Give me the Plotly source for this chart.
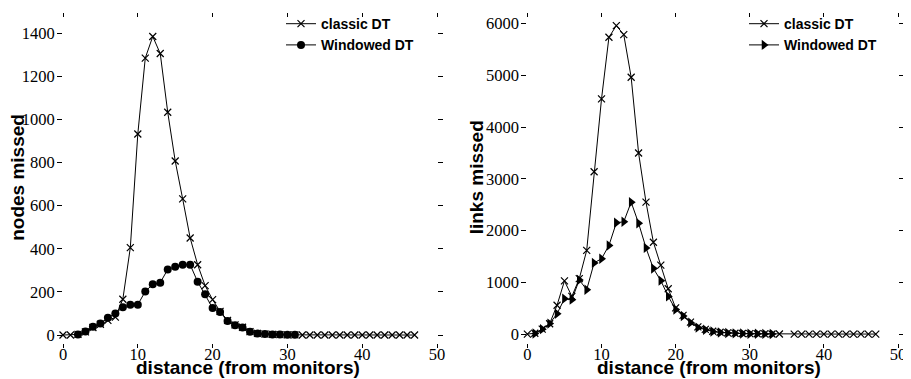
import plotly.graph_objects as go

# ---------------- data ----------------
# left panel: nodes missed
nodes_classic_x = list(range(0, 48))
nodes_classic_y = [0, 0, 3, 15, 35, 50, 68, 83, 166, 405, 932, 1284, 1384, 1305, 1033, 807,
                   631, 450, 326, 229, 164, 110, 68, 47, 36, 16, 8, 5, 3, 2, 1, 1,
                   0, 0, 0, 0, 0, 0, 0, 0, 0, 0, 0, 0, 0, 0, 0, 0]
nodes_windowed_x = list(range(2, 32))
nodes_windowed_y = [2, 17, 39, 53, 80, 100, 129, 141, 141, 202, 235, 243, 304, 317, 326,
                    326, 247, 189, 125, 107, 65, 45, 35, 15, 7, 5, 3, 2, 1, 1]

# right panel: links missed
links_classic_x = list(range(0, 35)) + list(range(36, 48))
links_classic_y = [0, 15, 94, 200, 557, 1027, 728, 1070, 1616, 3137, 4544, 5734, 5960, 5785,
                   4962, 3498, 2548, 1774, 1331, 875, 506, 361, 230, 140, 90, 55, 35, 22,
                   15, 10, 7, 5, 3, 2, 1,
                   0, 0, 0, 0, 0, 0, 0, 0, 0, 0, 0, 0]
links_windowed_x = list(range(1, 34))
links_windowed_y = [11, 95, 202, 392, 684, 665, 1046, 856, 1375, 1456, 1711, 2150, 2170, 2548,
                    2141, 1665, 1266, 1032, 728, 475, 348, 221, 125, 82, 49, 30, 20, 14, 10,
                    7, 5, 3, 2]

x_ticks = [0, 10, 20, 30, 40, 50]
nodes_ticks = [0, 200, 400, 600, 800, 1000, 1200, 1400]
links_ticks = [0, 1000, 2000, 3000, 4000, 5000, 6000]

series_names = ["classic DT", "Windowed DT"]
x_title = "distance (from monitors)"
left_title = "nodes missed"
right_title = "links missed"

# ---------------- figure ----------------
# the page body has an 8px margin, so page pixel p maps to figure pixel p - 8
OFF = 8
W, H = 911 - OFF, 379 - OFF
def px_x(p):
    return (p - OFF) / W
def px_y(p):
    return 1 - (p - OFF) / H

tick_font = dict(family="Liberation Serif", size=16.5, color="black")
title_font = dict(family="Liberation Sans", size=19, color="black", weight="bold")
legend_font = dict(family="Liberation Sans", size=14, color="black", weight="bold")

fig = go.Figure()
line = dict(color="black", width=1)

fig.add_trace(go.Scatter(x=nodes_classic_x, y=nodes_classic_y, mode="lines+markers",
                         name=series_names[0], line=line, cliponaxis=False,
                         marker=dict(symbol="x-thin-open", size=7, color="black",
                                     line=dict(color="black", width=1.2)),
                         xaxis="x", yaxis="y", legend="legend"))
fig.add_trace(go.Scatter(x=nodes_windowed_x, y=nodes_windowed_y, mode="lines+markers",
                         name=series_names[1], line=line, cliponaxis=False,
                         marker=dict(symbol="circle", size=8, color="black"),
                         xaxis="x", yaxis="y", legend="legend"))
fig.add_trace(go.Scatter(x=links_classic_x, y=links_classic_y, mode="lines+markers",
                         name=series_names[0], line=line, cliponaxis=False,
                         marker=dict(symbol="x-thin-open", size=7, color="black",
                                     line=dict(color="black", width=1.2)),
                         xaxis="x2", yaxis="y2", legend="legend2"))
fig.add_trace(go.Scatter(x=links_windowed_x, y=links_windowed_y, mode="lines+markers",
                         name=series_names[1], line=line, cliponaxis=False,
                         marker=dict(symbol="triangle-right", size=9, color="black"),
                         xaxis="x2", yaxis="y2", legend="legend2"))

ydom = [px_y(342), px_y(12)]
common_x = dict(range=[0, 50], tickvals=x_ticks, ticks="outside", ticklen=4, tickwidth=1,
                tickcolor="black", mirror="ticks", showline=False, showgrid=False,
                zeroline=False, tickfont=tick_font, automargin=False, ticklabelstandoff=-7)
common_y = dict(ticks="outside", ticklen=5, tickwidth=1, tickcolor="black", mirror="ticks",
                showline=False, showgrid=False, zeroline=False, tickfont=tick_font,
                automargin=False, ticklabelstandoff=-1)

fig.update_layout(
    width=W, height=H,
    margin=dict(l=0, r=0, t=0, b=0),
    paper_bgcolor="white", plot_bgcolor="white",
    xaxis=dict(domain=[px_x(63), px_x(437)], anchor="y", **common_x),
    yaxis=dict(domain=ydom, anchor="x", range=[-35, 1470], tickvals=nodes_ticks, **common_y),
    xaxis2=dict(domain=[px_x(527.4), px_x(898)], anchor="y2", **common_x),
    yaxis2=dict(domain=ydom, anchor="x2", range=[-165, 6108], tickvals=links_ticks, **common_y),
    legend=dict(x=px_x(281), y=px_y(2), xanchor="left", yanchor="top", font=legend_font,
                bgcolor="rgba(0,0,0,0)", itemwidth=30, tracegroupgap=0),
    legend2=dict(x=px_x(744), y=px_y(2), xanchor="left", yanchor="top", font=legend_font,
                 bgcolor="rgba(0,0,0,0)", itemwidth=30, tracegroupgap=0),
    showlegend=True,
    annotations=[
        dict(text=x_title, x=px_x(248), y=px_y(367), xref="paper", yref="paper",
             showarrow=False, font=title_font, xanchor="center", yanchor="middle"),
        dict(text=x_title, x=px_x(709), y=px_y(367), xref="paper", yref="paper",
             showarrow=False, font=title_font, xanchor="center", yanchor="middle"),
        dict(text=left_title, x=px_x(17.5), y=px_y(174), xref="paper", yref="paper",
             showarrow=False, font=title_font, textangle=-90, xanchor="center", yanchor="middle"),
        dict(text=right_title, x=px_x(476), y=px_y(174), xref="paper", yref="paper",
             showarrow=False, font=title_font, textangle=-90, xanchor="center", yanchor="middle"),
    ],
)

fig.write_html("out.html")
